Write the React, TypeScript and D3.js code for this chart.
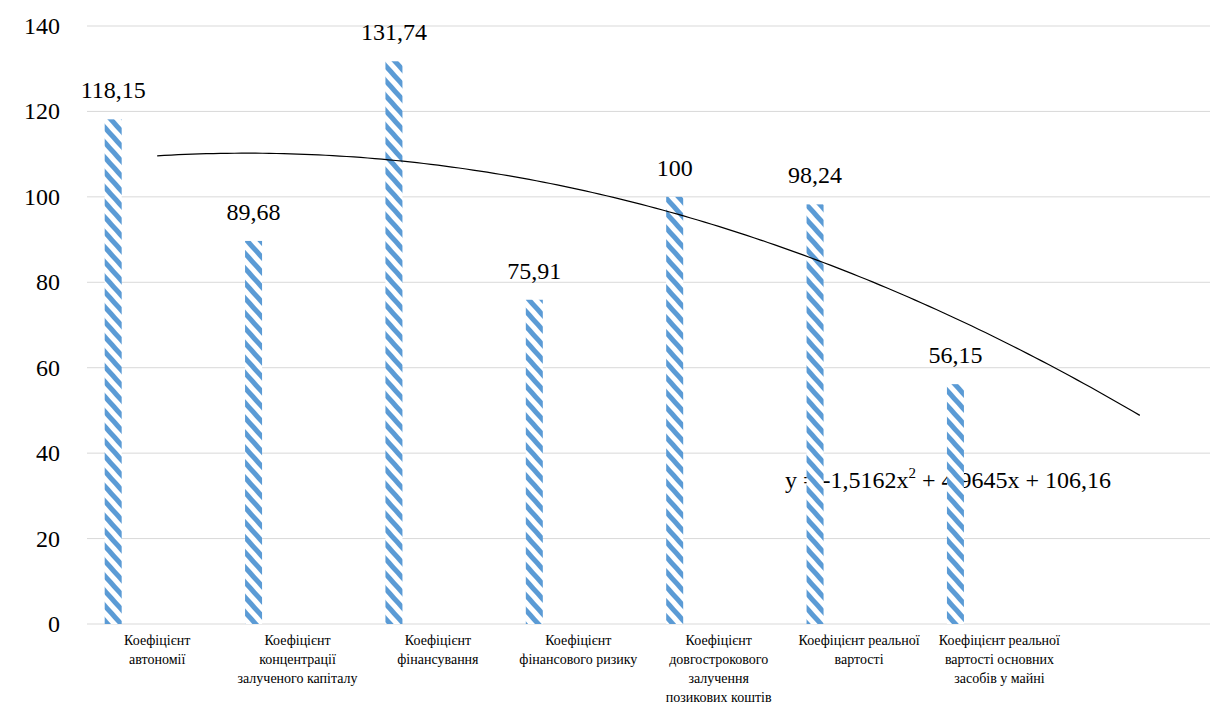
import React from "react";
import * as d3 from "d3";

// Category labels (line breaks as "|"), 8 slots, the last one empty
const categories: string[] = [
  "Коефіцієнт|автономії",
  "Коефіцієнт|концентрації|залученого капіталу",
  "Коефіцієнт|фінансування",
  "Коефіцієнт|фінансового ризику",
  "Коефіцієнт|довгострокового|залучення|позикових коштів",
  "Коефіцієнт реальної|вартості",
  "Коефіцієнт реальної|вартості основних|засобів у майні",
  "",
];
const values: (number | null)[] = [118.15, 89.68, 131.74, 75.91, 100, 98.24, 56.15, null];
const valueLabels: string[] = ["118,15", "89,68", "131,74", "75,91", "100", "98,24", "56,15", ""];
const yTicks: number[] = [0, 20, 40, 60, 80, 100, 120, 140];
// polynomial trend: a*x^2 + b*x + c
const trendCoef: number[] = [-1.5162, 4.9645, 106.16];

const W = 1224;
const H = 704;

export default function App() {
  const x = d3.scaleBand<number>().domain(d3.range(categories.length)).range([87, 1210]).padding(0);
  const y = d3.scaleLinear().domain([0, 140]).range([624, 26]);
  const bw = x.bandwidth();
  const barW = 17;
  const barOffset = -44;
  const cx = (i: number) => (x(i) as number) + bw / 2;

  const [a, b, c] = trendCoef;
  const line = d3
    .line<number>()
    .x((t) => cx(0) + (t - 1) * bw)
    .y((t) => y(a * t * t + b * t + c));

  const big = { fontFamily: "Liberation Serif", fontSize: "24px" };
  const small = { fontFamily: "Liberation Serif", fontSize: "14px" };

  return (
    <svg width={W} height={H} style={{ position: "absolute", left: 0, top: 0 }}>
      <style>{`text, tspan { font-family: "Liberation Serif", "Times New Roman", serif; }`}</style>
      <rect x={0} y={0} width={W} height={H} fill="#fff" />
      {yTicks.map((t) => (
        <line key={t} x1={87} x2={1210} y1={y(t)} y2={y(t)} stroke="#d9d9d9" strokeWidth={1} />
      ))}
      {yTicks.map((t) => (
        <text key={"l" + t} x={60} y={y(t) + 8} textAnchor="end" style={big}>
          {String(t)}
        </text>
      ))}
      {values.map((v, i) =>
        v == null ? null : (
          <text key={"v" + i} x={cx(i) + barOffset} y={y(v) - 21} textAnchor="middle" style={big}>
            {valueLabels[i]}
          </text>
        )
      )}
      {categories.map((cat, i) => (
        <text key={"c" + i} textAnchor="middle" style={small}>
          {cat
            .split("|")
            .filter((s) => s.length > 0)
            .map((ln, k) => (
              <tspan key={k} x={cx(i)} y={645 + k * 19}>
                {ln}
              </tspan>
            ))}
        </text>
      ))}
      <text x={785} y={488} style={big}>
        y = -1,5162x<tspan dy={-10} style={{ fontSize: "15px" }}>2</tspan>
        <tspan dy={10}> + 4,9645x + 106,16</tspan>
      </text>
      <defs>
        <pattern id="stripes" patternUnits="userSpaceOnUse" width={10} height={10} patternTransform="rotate(-42)">
          <rect x={0} y={0} width={10} height={10} fill="#fff" />
          <rect x={0} y={0} width={5} height={10} fill="#5B9BD5" />
        </pattern>
      </defs>
      {values.map((v, i) =>
        v == null ? null : (
          <rect
            key={"b" + i}
            x={cx(i) + barOffset - barW / 2}
            y={y(v)}
            width={barW}
            height={y(0) - y(v)}
            fill="url(#stripes)"
          />
        )
      )}
      <path d={line(d3.range(1, 8.0001, 0.05)) || ""} fill="none" stroke="#000" strokeWidth={1.2} />
    </svg>
  );
}
